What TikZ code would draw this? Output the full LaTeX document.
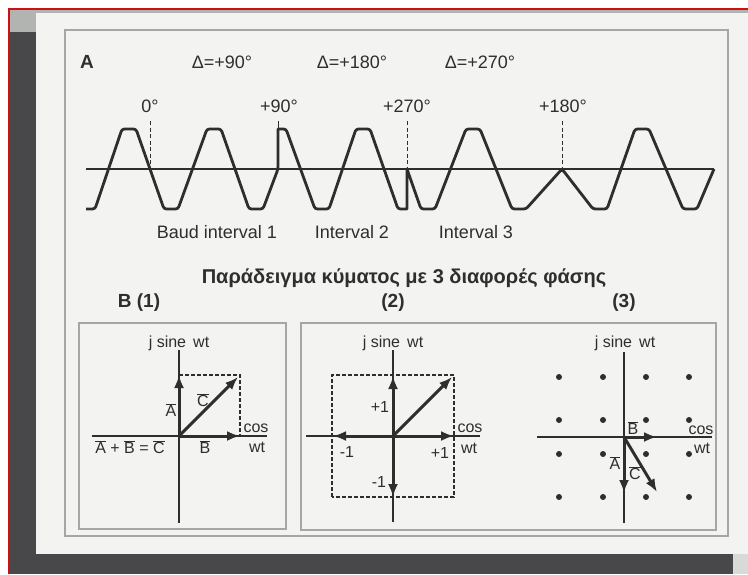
\documentclass[tikz,border=0pt]{standalone}
\usepackage{fontspec}
\setmainfont{Liberation Sans}
\usetikzlibrary{arrows.meta}
\definecolor{ink}{HTML}{2E2E2E}
\definecolor{rim}{HTML}{A6A6A6}
\definecolor{paper}{HTML}{F3F3F1}
\definecolor{scandark}{HTML}{48484A}
\definecolor{scanlight}{HTML}{B2B4B2}
\definecolor{scanred}{HTML}{D01010}
\newcommand{\vbar}[1]{$\overline{\hbox{#1}}$}

\begin{document}
\begin{tikzpicture}[x=1pt, y=-1pt, >={Latex[length=13pt,width=10pt]},
  txt/.style={text=ink, inner sep=0pt, font=\fontsize{16}{18}\selectfont},
  big/.style={txt, font=\fontsize{18}{21}\selectfont},
  head/.style={txt, font=\bfseries\fontsize{20}{23}\selectfont},
  tag/.style={txt, font=\bfseries\fontsize{19}{22}\selectfont},
  wave/.style={line width=2.8pt, ink, line join=round, rounded corners=2.5pt},
  axis/.style={line width=1.7pt, ink},
  vec/.style={line width=3pt, ink, ->},
  mark line/.style={line width=1pt, ink, dash pattern=on 4pt off 2.5pt},
  guide/.style={line width=1.2pt, ink, dash pattern=on 4pt off 2pt},
  rimbox/.style={line width=1.2pt, rim}]
  \useasboundingbox (0,0) rectangle (748,574);
  % scanned page edges
  \fill[white] (0,0) rectangle (748,574);
  \fill[scanlight] (10,10) rectangle (748,13);
  \fill[scanlight] (10,10) rectangle (37,32);
  \fill[scandark] (10,32) rectangle (36,574);
  \fill[scandark] (10,554) rectangle (733,574);
  \fill[scanlight!50] (733,554) rectangle (748,574);
  \fill[paper] (36,13) rectangle (748,554);
  \draw[scanred, line width=2pt] (9,574) -- (9,9) -- (748,9);
  % frames
  \draw[rimbox] (65,30) rectangle (728,536);
  \draw[rimbox] (79,323) rectangle (286,529);
  \draw[rimbox] (301,323) rectangle (716,530);

  % A: phase shifted carrier
  \node[tag] (partA) at (87,62) {A};
  \node[big] (d90) at (222,62) {Δ=+90°};
  \node[big] (d180) at (352,62) {Δ=+180°};
  \node[big] (d270) at (480,62) {Δ=+270°};
  \node[big] (p0) at (150,106) {0°};
  \node[big] (p90) at (279,106) {+90°};
  \node[big] (p270) at (407,106) {+270°};
  \node[big] (p180) at (563,106) {+180°};
  \coordinate (m0) at (150,121);   \coordinate (m0b) at (150,169);
  \coordinate (m90) at (278,121);  \coordinate (m90b) at (278,129);
  \coordinate (m270) at (407,121); \coordinate (m270b) at (407,169);
  \coordinate (m180) at (562,121); \coordinate (m180b) at (562,169);
  \draw[mark line] (m0) -- (m0b);
  \draw[mark line] (m270) -- (m270b);
  \draw[mark line] (m180) -- (m180b);
  \draw[line width=1pt, ink] (m90) -- (m90b);
  \draw[wave, rounded corners=0pt] (86,169) -- (714,169);
  \draw[wave] (86,209) -- (95,209) -- (122,129) -- (136,129) -- (164,209)
    -- (178,209) -- (207,129) -- (221,129) -- (249,209) -- (263,209)
    -- (278,169) [rounded corners=0pt] -- (278,129) [rounded corners=2.5pt]
    -- (286,129) -- (315,209) -- (329,209) -- (356,129) -- (370,129)
    -- (398,209) [rounded corners=0pt] -- (407,209) -- (407,169)
    [rounded corners=2.5pt] -- (421,209) -- (435,209) -- (466,129)
    -- (480,129) -- (512,209) -- (526,209) -- (562,169) -- (593,209)
    -- (607,209) -- (635,129) -- (649,129) -- (683,209) -- (697,209)
    -- (714,169);
  \node[big] (iv1) at (217,232) {Baud interval 1};
  \node[big] (iv2) at (352,232) {Interval 2};
  \node[big] (iv3) at (476,232) {Interval 3};

  % B: phasors
  \node[head] (title) at (404,278) {Παράδειγμα κύματος με 3 διαφορές φάσης};
  \node[tag] (partB) at (139,303) {B (1)};
  \node[tag] (sub2) at (393,303) {(2)};
  \node[tag] (sub3) at (624,303) {(3)};

  % (1)
  \coordinate (o1) at (179,436);
  \coordinate (o1n) at (179,350); \coordinate (o1s) at (179,523);
  \coordinate (o1w) at (92,436);  \coordinate (o1e) at (267,436);
  \coordinate (a1) at (179,375);  \coordinate (b1) at (240,436);
  \coordinate (c1) at (240,375);
  \draw[axis] (o1n) -- (o1s);
  \draw[axis] (o1w) -- (o1e);
  \draw[guide] (a1) -- (c1) -- (b1);
  \draw[vec] (o1) -- (a1);
  \draw[vec] (o1) -- (b1);
  \draw[vec] (o1) -- ([shift={(-2,2)}]c1);
  \node[txt] (y1) at (179,343) {j sine\, wt};
  \node[txt] (cos1) at (256,428) {cos};
  \node[txt] (wt1) at (257,447) {wt};
  \node[txt] (lA1) at (171,410) {\vbar{A}};
  \node[txt] (lC1) at (203,400) {\vbar{C}};
  \node[txt] (lB1) at (205,447) {\vbar{B}};
  \node[txt] (sum1) at (130,447) {\vbar{A} + \vbar{B} = \vbar{C}};

  % (2)
  \coordinate (o2) at (393,436);
  \coordinate (o2n) at (393,350); \coordinate (o2s) at (393,522);
  \coordinate (o2w) at (306,436); \coordinate (o2e) at (480,436);
  \coordinate (q2) at (454,375);  \coordinate (r2) at (332,497);
  \draw[axis] (o2n) -- (o2s);
  \draw[axis] (o2w) -- (o2e);
  \draw[guide] (r2) rectangle (q2);
  \draw[vec] (o2) -- (393,376);
  \draw[vec] (o2) -- (393,497);
  \draw[vec] (o2) -- (333,436);
  \draw[vec] (o2) -- (454,436);
  \draw[vec] (o2) -- (452,377);
  \node[txt] (y2) at (393,343) {j sine\, wt};
  \node[txt] (pu2) at (380,407) {+1};
  \node[txt] (mw2) at (347,452) {-1};
  \node[txt] (pe2) at (440,453) {+1};
  \node[txt] (ms2) at (379,482) {-1};
  \node[txt] (cos2) at (470,428) {cos};
  \node[txt] (wt2) at (469,448) {wt};

  % (3)
  \coordinate (o3) at (624,437);
  \coordinate (o3n) at (624,352); \coordinate (o3s) at (624,523);
  \coordinate (o3w) at (537,437); \coordinate (o3e) at (712,437);
  \coordinate (a3) at (624,493);  \coordinate (b3) at (657,437);
  \coordinate (c3) at (657,492);
  \draw[axis] (o3n) -- (o3s);
  \draw[axis] (o3w) -- (o3e);
  \foreach \cx in {559,603,646,689}
    \foreach \cy in {377,420,454,497}
      \fill[ink] (\cx,\cy) circle (3);
  \draw[vec] (o3) -- (a3);
  \draw[vec] (o3) -- (b3);
  \draw[vec] (o3) -- (c3);
  \node[txt] (y3) at (625,343) {j sine\, wt};
  \node[txt] (lB3) at (633,428) {\vbar{B}};
  \node[txt] (lA3) at (615,463) {\vbar{A}};
  \node[txt] (lC3) at (635,473) {\vbar{C}};
  \node[txt] (cos3) at (701,430) {cos};
  \node[txt] (wt3) at (702,448) {wt};
\end{tikzpicture}
\end{document}
